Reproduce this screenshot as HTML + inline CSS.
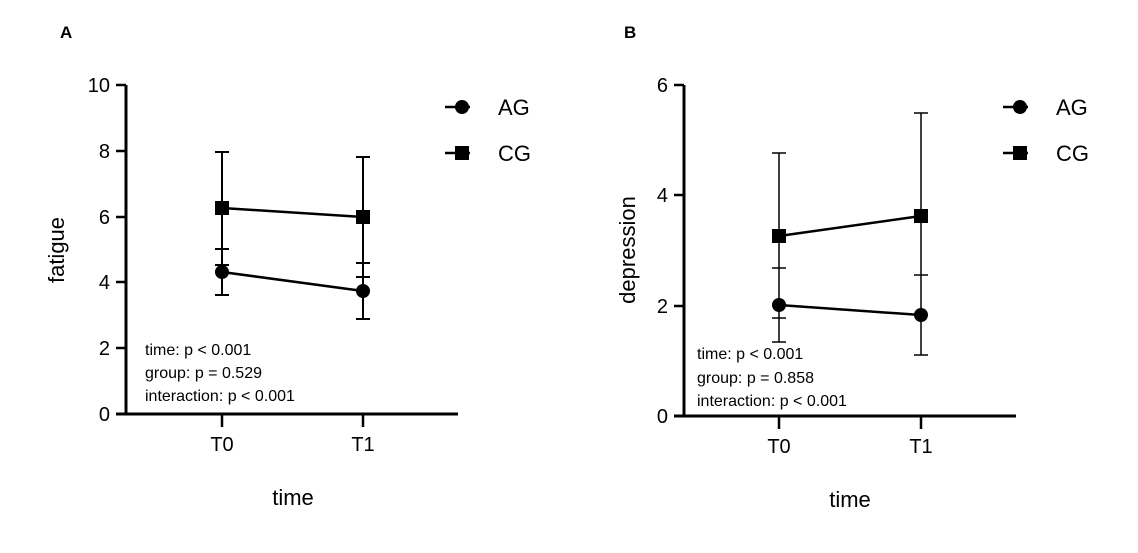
<!DOCTYPE html>
<html><head><style>body{margin:0;background:#fff}svg{display:block}text{font-family:"Liberation Sans",Arial,sans-serif;fill:#000}</style></head>
<body>
<svg width="1138" height="553" viewBox="0 0 1138 553">
<text x="60" y="38" font-size="17" font-weight="bold">A</text>
<text x="624" y="38" font-size="17" font-weight="bold">B</text>
<!-- Panel A -->
<g stroke="#000" fill="none">
<path d="M126 85V414M116 414H458" stroke-width="3"/>
<path d="M116 85H126M116 151H126M116 217H126M116 282H126M116 348H126M222 414V427M363 414V427" stroke-width="2.5"/>
<g stroke-width="2">
<path d="M222 152V295M215 152H229M215 295H229M215 265H229M215 249H229"/>
<path d="M363 157V319M356 157H370M356 319H370M356 263H370M356 277H370"/>
</g>
<path d="M222 208L363 217M222 272L363 291" stroke-width="2.5"/>
<path d="M445 107H470M445 153H470" stroke-width="2.5"/>
</g>
<rect x="215" y="201" width="14" height="14"/><rect x="356" y="210" width="14" height="14"/>
<circle cx="222" cy="272" r="7"/><circle cx="363" cy="291" r="7"/>
<circle cx="462" cy="107" r="7"/><rect x="455" y="146" width="14" height="14"/>
<g font-size="20" text-anchor="end"><text x="110" y="92">10</text><text x="110" y="158">8</text><text x="110" y="224">6</text><text x="110" y="289">4</text><text x="110" y="355">2</text><text x="110" y="421">0</text></g>
<g font-size="20" text-anchor="middle"><text x="222" y="451">T0</text><text x="363" y="451">T1</text><text x="293" y="505" font-size="22">time</text></g>
<text transform="translate(64 250) rotate(-90)" font-size="22" text-anchor="middle">fatigue</text>
<g font-size="22"><text x="498" y="115">AG</text><text x="498" y="161">CG</text></g>
<g font-size="16"><text x="145" y="355">time: p &lt; 0.001</text><text x="145" y="378">group: p = 0.529</text><text x="145" y="401">interaction: p &lt; 0.001</text></g>
<!-- Panel B -->
<g stroke="#000" fill="none">
<path d="M684 85V416M674 416H1016" stroke-width="3"/>
<path d="M674 85H684M674 195H684M674 306H684M779 416V429M921 416V429" stroke-width="2.5"/>
<g stroke-width="1.5">
<path d="M779 153V342M772 153H786M772 342H786M772 268H786M772 318H786"/>
<path d="M921 113V355M914 113H928M914 355H928M914 275H928"/>
</g>
<path d="M779 236L921 216M779 305L921 315" stroke-width="2.5"/>
<path d="M1003 107H1028M1003 153H1028" stroke-width="2.5"/>
</g>
<rect x="772" y="229" width="14" height="14"/><rect x="914" y="209" width="14" height="14"/>
<circle cx="779" cy="305" r="7"/><circle cx="921" cy="315" r="7"/>
<circle cx="1020" cy="107" r="7"/><rect x="1013" y="146" width="14" height="14"/>
<g font-size="20" text-anchor="end"><text x="668" y="92">6</text><text x="668" y="202">4</text><text x="668" y="313">2</text><text x="668" y="423">0</text></g>
<g font-size="20" text-anchor="middle"><text x="779" y="453">T0</text><text x="921" y="453">T1</text><text x="850" y="507" font-size="22">time</text></g>
<text transform="translate(635 250) rotate(-90)" font-size="22" text-anchor="middle">depression</text>
<g font-size="22"><text x="1056" y="115">AG</text><text x="1056" y="161">CG</text></g>
<g font-size="16"><text x="697" y="359">time: p &lt; 0.001</text><text x="697" y="383">group: p = 0.858</text><text x="697" y="406">interaction: p &lt; 0.001</text></g>
</svg>
</body></html>
